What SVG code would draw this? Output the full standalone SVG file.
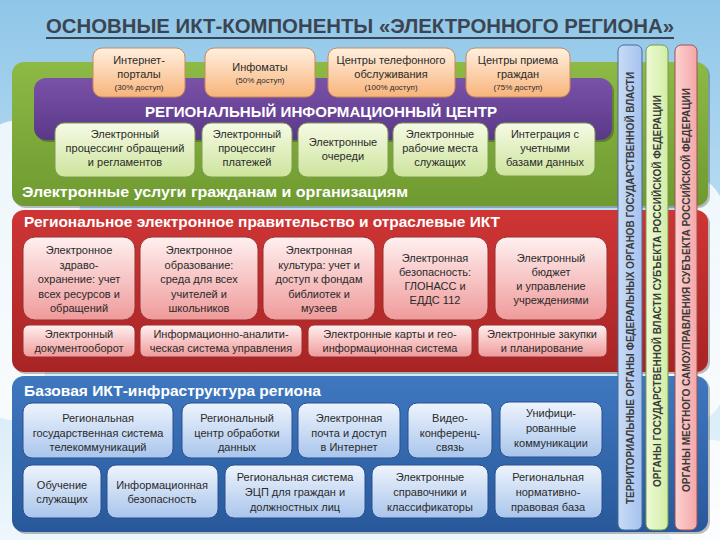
<svg xmlns="http://www.w3.org/2000/svg" width="720" height="540" viewBox="0 0 720 540">
<defs>
<linearGradient id="sky" x1="0" y1="0" x2="0" y2="1"><stop offset="0" stop-color="#8fc6e8"/><stop offset="0.5" stop-color="#c4e2f4"/><stop offset="1" stop-color="#eef7fc"/></linearGradient>
<linearGradient id="gGreen" x1="0" y1="0" x2="0" y2="1"><stop offset="0" stop-color="#8dba45"/><stop offset="1" stop-color="#6e9a30"/></linearGradient>
<linearGradient id="gPurple" x1="0" y1="0" x2="0" y2="1"><stop offset="0" stop-color="#7a52a8"/><stop offset="1" stop-color="#5a3888"/></linearGradient>
<linearGradient id="gRed" x1="0" y1="0" x2="0" y2="1"><stop offset="0" stop-color="#cf3535"/><stop offset="1" stop-color="#a82424"/></linearGradient>
<linearGradient id="gBlue" x1="0" y1="0" x2="0" y2="1"><stop offset="0" stop-color="#3f78c0"/><stop offset="1" stop-color="#28589a"/></linearGradient>
<linearGradient id="gOrange" x1="0" y1="0" x2="0" y2="1"><stop offset="0" stop-color="#fff0e0"/><stop offset="1" stop-color="#f8b47a"/></linearGradient>
<linearGradient id="gLGreen" x1="0" y1="0" x2="0" y2="1"><stop offset="0" stop-color="#f6fbe6"/><stop offset="1" stop-color="#cde49c"/></linearGradient>
<linearGradient id="gPink" x1="0" y1="0" x2="0" y2="1"><stop offset="0" stop-color="#fff0f0"/><stop offset="1" stop-color="#ef9a9a"/></linearGradient>
<linearGradient id="gLBlue" x1="0" y1="0" x2="0" y2="1"><stop offset="0" stop-color="#eef4fd"/><stop offset="1" stop-color="#a9c5ec"/></linearGradient>
<linearGradient id="bBlue" x1="0" y1="0" x2="1" y2="0"><stop offset="0" stop-color="#c9dcf6"/><stop offset="1" stop-color="#a6c2ee"/></linearGradient>
<linearGradient id="bGreen" x1="0" y1="0" x2="1" y2="0"><stop offset="0" stop-color="#eef9d6"/><stop offset="1" stop-color="#d2eea4"/></linearGradient>
<linearGradient id="bPink" x1="0" y1="0" x2="1" y2="0"><stop offset="0" stop-color="#fcd2d2"/><stop offset="1" stop-color="#f5a6a6"/></linearGradient>
</defs>
<style>
text{font-family:"Liberation Sans","DejaVu Sans",sans-serif;}
.t{font-size:11px;fill:#2a2a2a;text-anchor:middle;}
.s{font-size:8px;fill:#2a2a2a;text-anchor:middle;}
.h{font-weight:bold;fill:#ffffff;font-size:15px;}
.v{font-weight:bold;fill:#3a3a3a;font-size:11px;text-anchor:middle;}
.or{fill:url(#gOrange);stroke:#c8895a;stroke-width:1;}
.lg{fill:url(#gLGreen);stroke:#7f9c50;stroke-width:1;}
.pk{fill:url(#gPink);stroke:#9a3030;stroke-width:1;}
.lb{fill:url(#gLBlue);stroke:#2a5090;stroke-width:1;}
.sh{fill:#000;opacity:0.25;}
</style>
<rect width="720" height="540" fill="url(#sky)"/>
<g fill="#ffffff" opacity="0.8">
<ellipse cx="20" cy="200" rx="60" ry="80"/>
<ellipse cx="10" cy="330" rx="40" ry="90"/>
<ellipse cx="700" cy="300" rx="40" ry="120"/>
<ellipse cx="710" cy="500" rx="50" ry="60"/>
</g>

<g id="title">
<text x="360" y="33" text-anchor="middle" font-size="20" font-weight="bold" fill="#3b4552" textLength="628" lengthAdjust="spacingAndGlyphs">ОСНОВНЫЕ ИКТ-КОМПОНЕНТЫ «ЭЛЕКТРОННОГО РЕГИОНА»</text>
<rect x="46" y="37" width="628" height="2" fill="#3b4552"/>
</g>

<g id="panel-services">
<rect x="14" y="64" width="696" height="144" rx="12" class="sh"/>
<rect x="12" y="62" width="696" height="144" rx="12" fill="url(#gGreen)"/>
<text x="22" y="197" class="h" textLength="386" lengthAdjust="spacingAndGlyphs">Электронные услуги гражданам и организациям</text>
</g>

<g id="panel-center">
<rect x="36" y="80" width="578" height="62" rx="12" class="sh"/>
<rect x="34" y="78" width="578" height="62" rx="12" fill="url(#gPurple)"/>
<text x="321" y="117" text-anchor="middle" class="h" textLength="352" lengthAdjust="spacingAndGlyphs">РЕГИОНАЛЬНЫЙ ИНФОРМАЦИОННЫЙ ЦЕНТР</text>
</g>

<g id="portals"><rect x="93" y="48" width="92" height="49" rx="9" class="or"/>
<text x="139" y="64" class="t">Интернет-</text><text x="139" y="78" class="t">порталы</text><text x="139" y="90" class="s">(30% доступ)</text></g>
<g id="infomats"><rect x="205" y="48" width="110" height="49" rx="9" class="or"/>
<text x="260" y="71" class="t">Инфоматы</text><text x="260" y="83" class="s">(50% доступ)</text></g>
<g id="callcenters"><rect x="328" y="48" width="127" height="49" rx="9" class="or"/>
<text x="391" y="64" class="t">Центры телефонного</text><text x="391" y="78" class="t">обслуживания</text><text x="391" y="90" class="s">(100% доступ)</text></g>
<g id="reception"><rect x="466" y="48" width="104" height="49" rx="9" class="or"/>
<text x="518" y="64" class="t">Центры приема</text><text x="518" y="78" class="t">граждан</text><text x="518" y="90" class="s">(75% доступ)</text></g>

<g id="proc-requests"><rect x="55" y="123" width="140" height="54" rx="9" class="lg"/>
<text x="125" y="138" class="t">Электронный</text><text x="125" y="152" class="t">процессинг обращений</text><text x="125" y="166" class="t">и регламентов</text></g>
<g id="proc-payments"><rect x="202" y="123" width="90" height="54" rx="9" class="lg"/>
<text x="247" y="138" class="t">Электронный</text><text x="247" y="152" class="t">процессинг</text><text x="247" y="166" class="t">платежей</text></g>
<g id="queues"><rect x="298" y="123" width="90" height="54" rx="9" class="lg"/>
<text x="343" y="146" class="t">Электронные</text><text x="343" y="160" class="t">очереди</text></g>
<g id="workplaces"><rect x="393" y="123" width="95" height="54" rx="9" class="lg"/>
<text x="440" y="138" class="t">Электронные</text><text x="440" y="152" class="t">рабочие места</text><text x="440" y="166" class="t">служащих</text></g>
<g id="integration"><rect x="495" y="123" width="100" height="53" rx="9" class="lg"/>
<text x="545" y="138" class="t">Интеграция с</text><text x="545" y="152" class="t">учетными</text><text x="545" y="166" class="t">базами данных</text></g>

<g id="panel-government">
<rect x="14" y="212" width="696" height="162" rx="12" class="sh"/>
<rect x="12" y="210" width="696" height="162" rx="12" fill="url(#gRed)"/>
<text x="24" y="227" class="h" font-size="14" textLength="476" lengthAdjust="spacingAndGlyphs">Региональное электронное правительство и отраслевые ИКТ</text>
</g>

<g id="health"><rect x="23" y="237" width="112" height="83" rx="12" class="pk"/>
<text x="79" y="254" class="t">Электронное</text><text x="79" y="268.5" class="t">здраво-</text><text x="79" y="283" class="t">охранение: учет</text><text x="79" y="297.5" class="t">всех ресурсов и</text><text x="79" y="312" class="t">обращений</text></g>
<g id="education"><rect x="140" y="237" width="118" height="83" rx="12" class="pk"/>
<text x="199" y="254" class="t">Электронное</text><text x="199" y="268.5" class="t">образование:</text><text x="199" y="283" class="t">среда для всех</text><text x="199" y="297.5" class="t">учителей и</text><text x="199" y="312" class="t">школьников</text></g>
<g id="culture"><rect x="263" y="237" width="112" height="83" rx="12" class="pk"/>
<text x="319" y="254" class="t">Электронная</text><text x="319" y="268.5" class="t">культура: учет и</text><text x="319" y="283" class="t">доступ к фондам</text><text x="319" y="297.5" class="t">библиотек и</text><text x="319" y="312" class="t">музеев</text></g>
<g id="security"><rect x="383" y="237" width="105" height="83" rx="12" class="pk"/>
<text x="435" y="262" class="t">Электронная</text><text x="435" y="276" class="t">безопасность:</text><text x="435" y="290" class="t">ГЛОНАСС и</text><text x="435" y="304" class="t">ЕДДС 112</text></g>
<g id="budget"><rect x="495" y="237" width="112" height="83" rx="12" class="pk"/>
<text x="551" y="262" class="t">Электронный</text><text x="551" y="276" class="t">бюджет</text><text x="551" y="290" class="t">и управление</text><text x="551" y="304" class="t">учреждениями</text></g>

<g id="docflow"><rect x="23" y="325" width="112" height="32" rx="6" class="pk"/>
<text x="79" y="338" class="t">Электронный</text><text x="79" y="352" class="t">документооборот</text></g>
<g id="analytics"><rect x="140" y="325" width="162" height="32" rx="6" class="pk"/>
<text x="221" y="338" class="t">Информационно-аналити-</text><text x="221" y="352" class="t">ческая система управления</text></g>
<g id="maps"><rect x="308" y="325" width="164" height="32" rx="6" class="pk"/>
<text x="390" y="338" class="t">Электронные карты и гео-</text><text x="390" y="352" class="t">информационная система</text></g>
<g id="procurement"><rect x="478" y="325" width="129" height="32" rx="6" class="pk"/>
<text x="542" y="338" class="t">Электронные закупки</text><text x="542" y="352" class="t">и планирование</text></g>

<g id="panel-infrastructure">
<rect x="14" y="378" width="696" height="156" rx="12" class="sh"/>
<rect x="12" y="376" width="696" height="156" rx="12" fill="url(#gBlue)"/>
<text x="24" y="396" class="h" textLength="297" lengthAdjust="spacingAndGlyphs">Базовая ИКТ-инфраструктура региона</text>
</g>

<g id="telecom"><rect x="23" y="403" width="150" height="55" rx="9" class="lb"/>
<text x="98" y="422" class="t">Региональная</text><text x="98" y="436.5" class="t">государственная система</text><text x="98" y="451" class="t">телекоммуникаций</text></g>
<g id="datacenter"><rect x="182" y="403" width="110" height="55" rx="9" class="lb"/>
<text x="237" y="422" class="t">Региональный</text><text x="237" y="436.5" class="t">центр обработки</text><text x="237" y="451" class="t">данных</text></g>
<g id="email"><rect x="298" y="403" width="102" height="55" rx="9" class="lb"/>
<text x="349" y="422" class="t">Электронная</text><text x="349" y="436.5" class="t">почта и доступ</text><text x="349" y="451" class="t">в Интернет</text></g>
<g id="video"><rect x="408" y="403" width="84" height="55" rx="9" class="lb"/>
<text x="450" y="422" class="t">Видео-</text><text x="450" y="436.5" class="t">конференц-</text><text x="450" y="451" class="t">связь</text></g>
<g id="unified"><rect x="500" y="402" width="102" height="55" rx="9" class="lb"/>
<text x="551" y="417" class="t">Унифици-</text><text x="551" y="432" class="t">рованные</text><text x="551" y="447" class="t">коммуникации</text></g>

<g id="training"><rect x="23" y="465" width="78" height="53" rx="9" class="lb"/>
<text x="62" y="489" class="t">Обучение</text><text x="62" y="503" class="t">служащих</text></g>
<g id="infosec"><rect x="107" y="465" width="111" height="53" rx="9" class="lb"/>
<text x="162" y="489" class="t">Информационная</text><text x="162" y="503" class="t">безопасность</text></g>
<g id="eds"><rect x="225" y="465" width="140" height="53" rx="9" class="lb"/>
<text x="295" y="481" class="t">Региональная система</text><text x="295" y="496" class="t">ЭЦП для граждан и</text><text x="295" y="511" class="t">должностных лиц</text></g>
<g id="directories"><rect x="372" y="465" width="116" height="53" rx="9" class="lb"/>
<text x="430" y="481" class="t">Электронные</text><text x="430" y="496" class="t">справочники и</text><text x="430" y="511" class="t">классификаторы</text></g>
<g id="legal"><rect x="495" y="465" width="107" height="53" rx="9" class="lb"/>
<text x="548" y="481" class="t">Региональная</text><text x="548" y="496" class="t">нормативно-</text><text x="548" y="511" class="t">правовая база</text></g>

<g id="bar-federal"><rect x="618" y="45" width="24" height="485" rx="6" fill="url(#bBlue)" stroke="#4a6a9a" stroke-width="1"/>
<text transform="translate(634 288) rotate(-90)" class="v" textLength="432" lengthAdjust="spacingAndGlyphs">ТЕРРИТОРИАЛЬНЫЕ ОРГАНЫ ФЕДЕРАЛЬНЫХ ОРГАНОВ ГОСУДАРСТВЕННОЙ ВЛАСТИ</text></g>
<g id="bar-regional"><rect x="646" y="45" width="22" height="485" rx="6" fill="url(#bGreen)" stroke="#7a9a4a" stroke-width="1"/>
<text transform="translate(661 291) rotate(-90)" class="v" textLength="392" lengthAdjust="spacingAndGlyphs">ОРГАНЫ ГОСУДАРСТВЕННОЙ ВЛАСТИ СУБЪЕКТА РОССИЙСКОЙ ФЕДЕРАЦИИ</text></g>
<g id="bar-local"><rect x="675" y="45" width="22" height="485" rx="6" fill="url(#bPink)" stroke="#a05050" stroke-width="1"/>
<text transform="translate(690 290) rotate(-90)" class="v" textLength="404" lengthAdjust="spacingAndGlyphs">ОРГАНЫ МЕСТНОГО САМОУПРАВЛЕНИЯ СУБЪЕКТА РОССИЙСКОЙ ФЕДЕРАЦИИ</text></g>
</svg>
